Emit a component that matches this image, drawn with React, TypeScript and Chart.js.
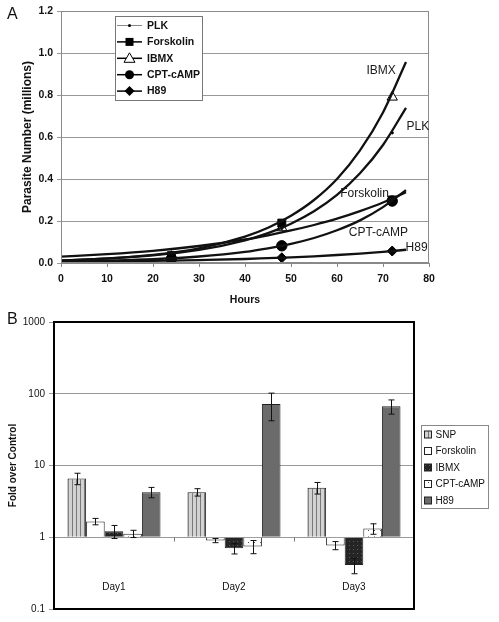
import React, { useEffect, useRef } from "react";
import { Chart, registerables } from "chart.js";
Chart.register(...registerables);

const FONT = "'Liberation Sans', Arial, Helvetica, sans-serif";
Chart.defaults.font.family = FONT;

// ---------- Panel A data ----------
const A_SERIES = ["PLK", "Forskolin", "IBMX", "CPT-cAMP", "H89"];
const FIT_HOURS = [0, 10, 20, 30, 40, 45, 50, 55, 60, 65, 70, 75];
const PLK_FIT = [0.012, 0.021, 0.036, 0.062, 0.108, 0.142, 0.187, 0.246, 0.324, 0.427, 0.562, 0.739];
const FORSK_FIT = [0.03, 0.042, 0.058, 0.081, 0.112, 0.132, 0.155, 0.181, 0.211, 0.247, 0.288, 0.337];
const IBMX_FIT = [0.012, 0.022, 0.039, 0.07, 0.126, 0.168, 0.225, 0.3, 0.4, 0.536, 0.717, 0.957];
const CPT_FIT = [0.006, 0.011, 0.018, 0.031, 0.053, 0.07, 0.091, 0.119, 0.156, 0.203, 0.266, 0.347];
const H89_FIT = [0.005, 0.007, 0.01, 0.014, 0.019, 0.023, 0.027, 0.032, 0.038, 0.045, 0.053, 0.063];

const SAMPLE_HOURS = [24, 48, 72];
const PLK_PTS = [0.044, 0.165, 0.62];
const FORSK_PTS = [0.035, 0.19, 0.3];
const IBMX_PTS = [0.03, 0.168, 0.79];
const CPT_PTS = [0.02, 0.082, 0.295];
const H89_PTS = [0.004, 0.025, 0.057];

const CURVE_LABELS = [
  { text: "IBMX", hour: 69.6, value: 0.914 },
  { text: "PLK", hour: 77.6, value: 0.651 },
  { text: "Forskolin", hour: 66, value: 0.33 },
  { text: "CPT-cAMP", hour: 69, value: 0.146 },
  { text: "H89", hour: 77.3, value: 0.074 },
];

// ---------- Panel B data ----------
const DAYS = ["Day1", "Day2", "Day3"];
const B_SERIES = ["SNP", "Forskolin", "IBMX", "CPT-cAMP", "H89"];
const SNP_B = [6.6, 4.25, 4.9];
const SNP_ERR = [1.2, 0.5, 0.9];
const FORSK_B = [1.66, 0.9, 0.77];
const FORSK_ERR = [0.17, 0.06, 0.1];
const IBMX_B = [1.21, 0.7, 0.41];
const IBMX_ERR = [0.25, 0.115, 0.1];
const CPT_B = [1.12, 0.745, 1.32];
const CPT_ERR = [0.13, 0.155, 0.22];
const H89_B = [4.25, 72, 67];
const H89_ERR = [0.7, 30, 15];
const B_TICKS = [0.1, 1, 10, 100, 1000];
const DAY_LABEL_AT = 0.2;

type Style = "dot" | "rect" | "triangle" | "circle" | "diamond";
const A_STYLES: Style[] = ["dot", "rect", "triangle", "circle", "diamond"];

function drawMarker(ctx: CanvasRenderingContext2D, s: Style, x: number, y: number) {
  ctx.save();
  ctx.fillStyle = "#000";
  ctx.strokeStyle = "#000";
  ctx.lineWidth = 1;
  ctx.beginPath();
  if (s === "dot") {
    ctx.arc(x, y, 1.5, 0, Math.PI * 2);
    ctx.fill();
  } else if (s === "rect") {
    ctx.rect(x - 4, y - 4, 8, 8);
    ctx.fill();
  } else if (s === "triangle") {
    ctx.moveTo(x, y - 5.5);
    ctx.lineTo(x + 5.5, y + 4);
    ctx.lineTo(x - 5.5, y + 4);
    ctx.closePath();
    ctx.fillStyle = "#fff";
    ctx.fill();
    ctx.stroke();
  } else if (s === "circle") {
    ctx.arc(x, y, 4.5, 0, Math.PI * 2);
    ctx.fill();
  } else {
    ctx.moveTo(x, y - 5);
    ctx.lineTo(x + 5, y);
    ctx.lineTo(x, y + 5);
    ctx.lineTo(x - 5, y);
    ctx.closePath();
    ctx.fill();
  }
  ctx.restore();
}

const panelAPlugin = {
  id: "panelA",
  afterDraw(chart: any) {
    const { ctx, chartArea: ca, scales } = chart;
    const xs = scales.x, ys = scales.y;
    ctx.save();
    ctx.strokeStyle = "#8a8a8a";
    ctx.lineWidth = 1;
    ctx.strokeRect(ca.left + 0.5, ca.top + 0.5, ca.right - ca.left - 1, ca.bottom - ca.top - 1);
    ctx.fillStyle = "#1a1a1a";
    ctx.font = `12px ${FONT}`;
    ctx.textAlign = "center";
    ctx.textBaseline = "middle";
    CURVE_LABELS.forEach((l) => {
      ctx.fillText(l.text, xs.getPixelForValue(l.hour), ys.getPixelForValue(l.value));
    });
    const lx = ca.left + 54, ly = ca.top + 5, lw = 87, lh = 84;
    ctx.fillStyle = "#fff";
    ctx.fillRect(lx, ly, lw, lh);
    ctx.strokeStyle = "#777";
    ctx.strokeRect(lx + 0.5, ly + 0.5, lw, lh);
    ctx.font = `bold 10.5px ${FONT}`;
    ctx.textAlign = "left";
    A_SERIES.forEach((name, i) => {
      const y = ly + 9.5 + i * 16.4;
      ctx.strokeStyle = i === 0 ? "#888" : "#000";
      ctx.lineWidth = i === 0 ? 1 : 1.5;
      ctx.beginPath();
      ctx.moveTo(lx + 2, y);
      ctx.lineTo(lx + 27, y);
      ctx.stroke();
      drawMarker(ctx, A_STYLES[i], lx + 14.5, y);
      ctx.fillStyle = "#111";
      ctx.fillText(name, lx + 32, y + 0.5);
    });
    ctx.restore();
  },
};

function makePattern(bg: string, w: number, h: number, draw: (g: CanvasRenderingContext2D) => void) {
  const c = document.createElement("canvas");
  c.width = w;
  c.height = h;
  const g = c.getContext("2d")!;
  g.fillStyle = bg;
  g.fillRect(0, 0, w, h);
  draw(g);
  return g.createPattern(c, "repeat")!;
}

export default function App() {
  const refA = useRef<HTMLCanvasElement>(null);
  const refB = useRef<HTMLCanvasElement>(null);

  useEffect(() => {
    const fits = [PLK_FIT, FORSK_FIT, IBMX_FIT, CPT_FIT, H89_FIT];
    const pts = [PLK_PTS, FORSK_PTS, IBMX_PTS, CPT_PTS, H89_PTS];
    const pStyles = ["circle", "rect", "triangle", "circle", "rectRot"];
    const pRadius = [1.2, 5.6, 6, 5.2, 5];
    const pFill = ["#000", "#000", "#fff", "#000", "#000"];

    const dsA: any[] = [];
    A_SERIES.forEach((name, i) => {
      dsA.push({
        label: name + " fit",
        data: FIT_HOURS.map((h, j) => ({ x: h, y: fits[i][j] })),
        borderColor: "#111",
        borderWidth: 2.3,
        pointRadius: 0,
        cubicInterpolationMode: "monotone",
        fill: false,
      });
    });
    A_SERIES.forEach((name, i) => {
      dsA.push({
        label: name,
        data: SAMPLE_HOURS.map((h, j) => ({ x: h, y: pts[i][j] })),
        showLine: false,
        pointStyle: pStyles[i],
        pointRadius: pRadius[i],
        pointBackgroundColor: pFill[i],
        pointBorderColor: "#000",
        pointBorderWidth: 1,
      });
    });

    const chartA = new Chart(refA.current!, {
      type: "line",
      data: { datasets: dsA },
      options: {
        responsive: false,
        animation: false,
        layout: { padding: { top: 11, right: 70, left: 0, bottom: 0 } },
        plugins: { legend: { display: false }, tooltip: { enabled: false } },
        scales: {
          x: {
            type: "linear",
            min: 0,
            max: 80,
            afterFit: (s: any) => { s.height = 53; },
            ticks: { stepSize: 10, font: { size: 10.5, weight: "bold" }, color: "#111", padding: 6, maxRotation: 0 },
            grid: { drawOnChartArea: false, tickLength: 4, color: "#888" },
            border: { color: "#888" },
            title: { display: true, text: "Hours", font: { size: 10.5, weight: "bold" }, color: "#111", padding: { top: 0, bottom: 9.5 } },
          },
          y: {
            min: 0,
            max: 1.2,
            afterFit: (s: any) => { s.width = 61; },
            ticks: { stepSize: 0.2, callback: (v: any) => Number(v).toFixed(1), font: { size: 10.5, weight: "bold" }, color: "#111", padding: 4 },
            grid: { color: "#999", tickLength: 4 },
            border: { color: "#888" },
            title: { display: true, text: "Parasite Number (millions)", font: { size: 12, weight: "bold" }, color: "#111", padding: { top: 20.8, bottom: 0 } },
          },
        },
      } as any,
      plugins: [panelAPlugin],
    });

    const fills: any[] = [
      makePattern("#d2d2d2", 4, 1, (g) => { g.fillStyle = "#7a7a7a"; g.fillRect(0, 0, 1, 1); }),
      "#ffffff",
      makePattern("#252525", 4, 4, (g) => { g.fillStyle = "#5a5a5a"; g.fillRect(1, 1, 1, 1); }),
      makePattern("#ffffff", 6, 6, (g) => { g.fillStyle = "#555"; g.fillRect(2, 2, 1, 1); }),
      "#6b6b6b",
    ];
    const values = [SNP_B, FORSK_B, IBMX_B, CPT_B, H89_B];
    const errs = [SNP_ERR, FORSK_ERR, IBMX_ERR, CPT_ERR, H89_ERR];

    const panelBPlugin = {
      id: "panelB",
      afterDatasetsDraw(chart: any) {
        const { ctx, scales } = chart;
        const ys = scales.y;
        ctx.save();
        ctx.strokeStyle = "#111";
        ctx.lineWidth = 1;
        values.forEach((vals, di) => {
          const meta = chart.getDatasetMeta(di);
          meta.data.forEach((bar: any, i: number) => {
            const v = vals[i], e = errs[di][i];
            const x = Math.round(bar.x) + 0.5;
            const yHi = ys.getPixelForValue(v + e);
            const yLo = ys.getPixelForValue(v - e);
            ctx.beginPath();
            ctx.moveTo(x, yHi);
            ctx.lineTo(x, yLo);
            ctx.moveTo(x - 3, yHi);
            ctx.lineTo(x + 3, yHi);
            ctx.moveTo(x - 3, yLo);
            ctx.lineTo(x + 3, yLo);
            ctx.stroke();
          });
        });
        ctx.restore();
      },
      afterDraw(chart: any) {
        const { ctx, chartArea: ca, scales } = chart;
        const xs = scales.x, ys = scales.y;
        ctx.save();
        const y1 = Math.round(ys.getPixelForValue(1)) + 0.5;
        ctx.strokeStyle = "#777";
        ctx.lineWidth = 1;
        for (let i = 0; i < DAYS.length - 1; i++) {
          const x = Math.round((xs.getPixelForValue(i) + xs.getPixelForValue(i + 1)) / 2) + 0.5;
          ctx.beginPath();
          ctx.moveTo(x, y1);
          ctx.lineTo(x, y1 + 4);
          ctx.stroke();
        }
        ctx.fillStyle = "#111";
        ctx.font = `10px ${FONT}`;
        ctx.textAlign = "center";
        ctx.textBaseline = "middle";
        DAYS.forEach((d, i) => ctx.fillText(d, xs.getPixelForValue(i), ys.getPixelForValue(DAY_LABEL_AT)));
        ctx.strokeStyle = "#000";
        ctx.lineWidth = 2;
        ctx.strokeRect(ca.left, ca.top, ca.right - ca.left, ca.bottom - ca.top);
        const lx = ca.right + 7, ly = ca.top + 103, lw = 67, lh = 83;
        ctx.fillStyle = "#fff";
        ctx.fillRect(lx, ly, lw, lh);
        ctx.strokeStyle = "#888";
        ctx.lineWidth = 1;
        ctx.strokeRect(lx + 0.5, ly + 0.5, lw, lh);
        ctx.font = `10px ${FONT}`;
        ctx.textAlign = "left";
        B_SERIES.forEach((name, i) => {
          const y = ly + 9.5 + i * 16.5;
          ctx.fillStyle = fills[i];
          ctx.fillRect(lx + 3.5, y - 3.5, 7, 7);
          ctx.strokeStyle = "#222";
          ctx.strokeRect(lx + 3.5, y - 3.5, 7, 7);
          ctx.fillStyle = "#111";
          ctx.fillText(name, lx + 14.5, y + 0.5);
        });
        ctx.restore();
      },
    };

    const chartB = new Chart(refB.current!, {
      type: "bar",
      data: {
        labels: DAYS,
        datasets: B_SERIES.map((name, i) => ({
          label: name,
          data: values[i],
          backgroundColor: fills[i],
          borderColor: "#222",
          borderWidth: 1,
          base: 1,
          categoryPercentage: 0.775,
          barPercentage: 1,
        })),
      },
      options: {
        responsive: false,
        animation: false,
        layout: { padding: { top: 9, right: 85, bottom: 13, left: 0 } },
        plugins: { legend: { display: false }, tooltip: { enabled: false } },
        scales: {
          x: { display: false },
          y: {
            type: "logarithmic",
            min: 0.1,
            max: 1000,
            afterFit: (s: any) => { s.width = 54; },
            afterBuildTicks: (s: any) => { s.ticks = B_TICKS.map((v) => ({ value: v })); },
            ticks: { callback: (v: any) => String(v), font: { size: 10 }, color: "#111", padding: 4, autoSkip: false },
            grid: { color: "#999", tickLength: 5 },
            border: { color: "#000", width: 2 },
            title: { display: true, text: "Fold over Control", font: { size: 10, weight: "bold" }, color: "#111", padding: { top: 7, bottom: 0 } },
          },
        },
      } as any,
      plugins: [panelBPlugin],
    });

    return () => {
      chartA.destroy();
      chartB.destroy();
    };
  }, []);

  const lbl: React.CSSProperties = { position: "absolute", left: 7, fontFamily: FONT, fontSize: 16, color: "#111", lineHeight: "normal" };
  return (
    <div style={{ position: "absolute", left: 0, top: 0, width: 499, height: 622, background: "#fff", overflow: "hidden" }}>
      <canvas ref={refA} width={499} height={316} style={{ position: "absolute", left: 0, top: 0 }} />
      <canvas ref={refB} width={499} height={310} style={{ position: "absolute", left: 0, top: 312 }} />
      <div style={{ ...lbl, top: 5 }}>A</div>
      <div style={{ ...lbl, top: 310 }}>B</div>
    </div>
  );
}
